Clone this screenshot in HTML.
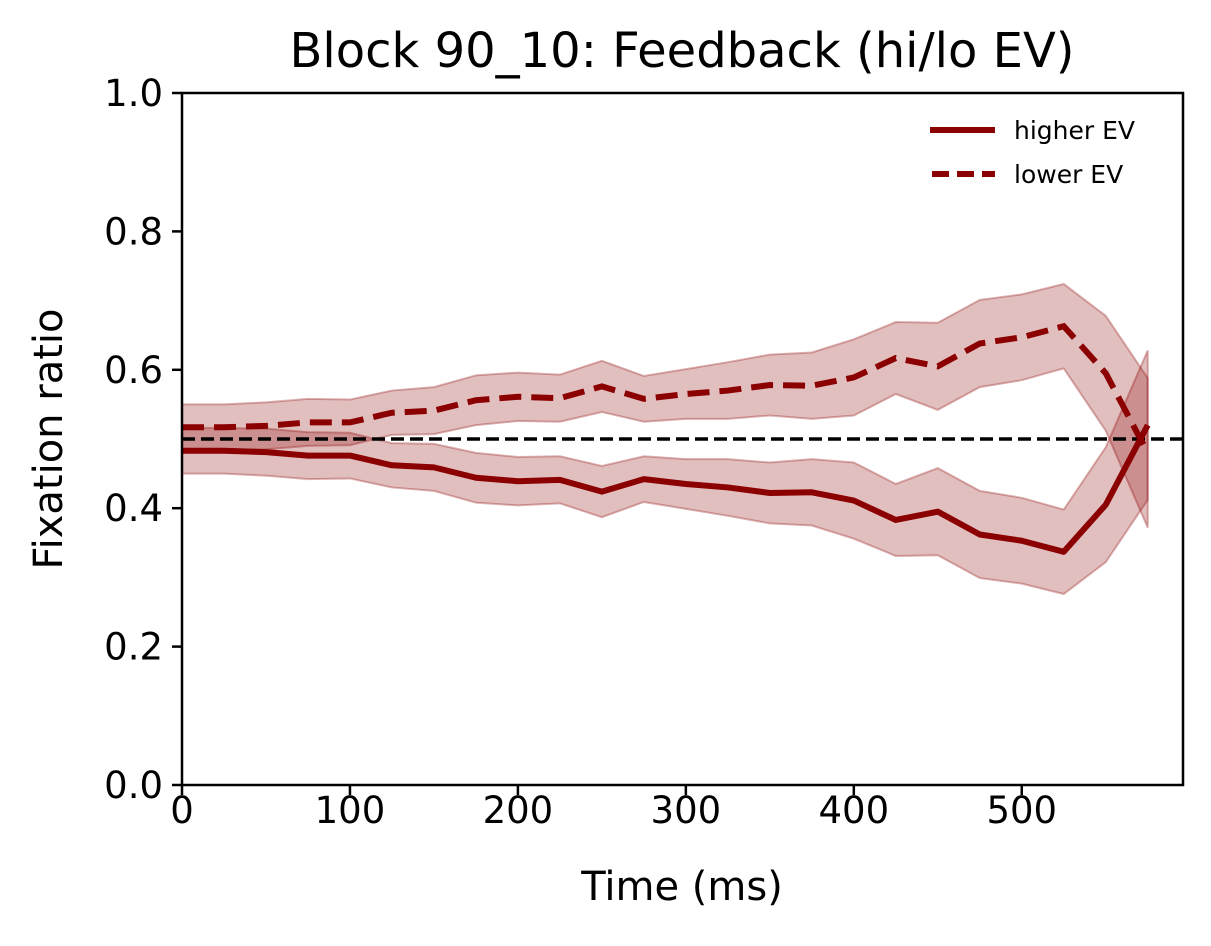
<!DOCTYPE html>
<html><head><meta charset="utf-8"><style>
body{margin:0;background:#fff;}
svg text{font-family:"DejaVu Sans","Liberation Sans",sans-serif;}
</style></head><body>
<svg id="chart" width="1211" height="941" viewBox="0 0 1211 941">
<rect width="1211" height="941" fill="#fff"/>
<g id="plot"></g>
</svg>
<script>
const times=[0,25,50,75,100,125,150,175,200,225,250,275,300,325,350,375,400,425,450,475,500,525,550,575];
const higherEV=[0.483,0.483,0.481,0.476,0.476,0.462,0.459,0.444,0.439,0.441,0.424,0.442,0.435,0.430,0.422,0.423,0.411,0.383,0.395,0.362,0.353,0.337,0.405,0.52];
const lowerEV=[0.517,0.517,0.519,0.524,0.524,0.538,0.541,0.556,0.561,0.559,0.576,0.558,0.565,0.570,0.578,0.577,0.589,0.617,0.605,0.638,0.647,0.663,0.595,0.48];
const errEV=[0.033,0.033,0.034,0.034,0.033,0.032,0.034,0.036,0.035,0.034,0.037,0.033,0.036,0.041,0.044,0.048,0.055,0.052,0.063,0.063,0.062,0.061,0.083,0.108];
const xTicks=[0,100,200,300,400,500];
const yTicks=[0.0,0.2,0.4,0.6,0.8,1.0];
const X0=182,X1=1183,Y0=785,Y1=93,XMAX=596;
const xs=v=>X0+(X1-X0)*v/XMAX, ys=v=>Y0-(Y0-Y1)*v;
const NS="http://www.w3.org/2000/svg", g=document.getElementById('plot');
function mk(t,a,p){const e=document.createElementNS(NS,t);for(const k in a)e.setAttribute(k,a[k]);(p||g).appendChild(e);return e;}
function band(m,name){
 let up=times.map((t,i)=>xs(t)+','+ys(m[i]+errEV[i]));
 let dn=times.map((t,i)=>xs(t)+','+ys(m[i]-errEV[i])).reverse();
 const e=mk('polygon',{points:up.concat(dn).join(' '),fill:'rgba(139,0,0,0.25)',stroke:'rgba(139,0,0,0.3)','stroke-width':2});
 
 
}
band(higherEV,'higher-ev-band');band(lowerEV,'lower-ev-band');
const hl=mk('line',{x1:X0,x2:X1,y1:ys(0.5),y2:ys(0.5),stroke:'#000','stroke-width':3.5,'stroke-dasharray':'13,6'});


const l1=mk('polyline',{points:times.map((t,i)=>xs(t)+','+ys(higherEV[i])).join(' '),fill:'none',stroke:'#8b0000','stroke-width':6,'stroke-linejoin':'round'});


const l2=mk('polyline',{points:times.map((t,i)=>xs(t)+','+ys(lowerEV[i])).join(' '),fill:'none',stroke:'#8b0000','stroke-width':6,'stroke-dasharray':'22,10'});


const fr=mk('rect',{x:X0,y:Y1,width:X1-X0,height:Y0-Y1,fill:'none',stroke:'#000','stroke-width':2.5});


xTicks.forEach(v=>{const x=xs(v);mk('line',{x1:x,x2:x,y1:Y0,y2:Y0+10,stroke:'#000','stroke-width':2.5});
 const t=mk('text',{x:x,y:Y0+38,'text-anchor':'middle','font-size':37});t.textContent=v;
 
 });
yTicks.forEach(v=>{const y=ys(v);mk('line',{x1:X0-10,x2:X0,y1:y,y2:y,stroke:'#000','stroke-width':2.5});
 const t=mk('text',{x:X0-19,y:y+13,'text-anchor':'end','font-size':37});t.textContent=v.toFixed(1);
 
 });
</script>
<svg style="position:absolute;left:0;top:0" width="1211" height="941">
<text x="682" y="67" text-anchor="middle" font-size="48" font-family="DejaVu Sans,Liberation Sans,sans-serif">Block 90_10: Feedback (hi/lo EV)</text>
<text x="682" y="900" text-anchor="middle" font-size="40" font-family="DejaVu Sans,Liberation Sans,sans-serif">Time (ms)</text>
<text transform="translate(62,439) rotate(-90)" text-anchor="middle" font-size="40" font-family="DejaVu Sans,Liberation Sans,sans-serif">Fixation ratio</text>
<g>
<line x1="930" x2="995" y1="130" y2="130" stroke="#8b0000" stroke-width="6"/>
<text x="1014" y="139" font-size="25" font-family="DejaVu Sans,Liberation Sans,sans-serif">higher EV</text>
<line x1="932" x2="995" y1="174" y2="174" stroke="#8b0000" stroke-width="6" stroke-dasharray="17,8"/>
<text x="1014" y="183" font-size="25" font-family="DejaVu Sans,Liberation Sans,sans-serif">lower EV</text>
</g>
</svg>
</body></html>
